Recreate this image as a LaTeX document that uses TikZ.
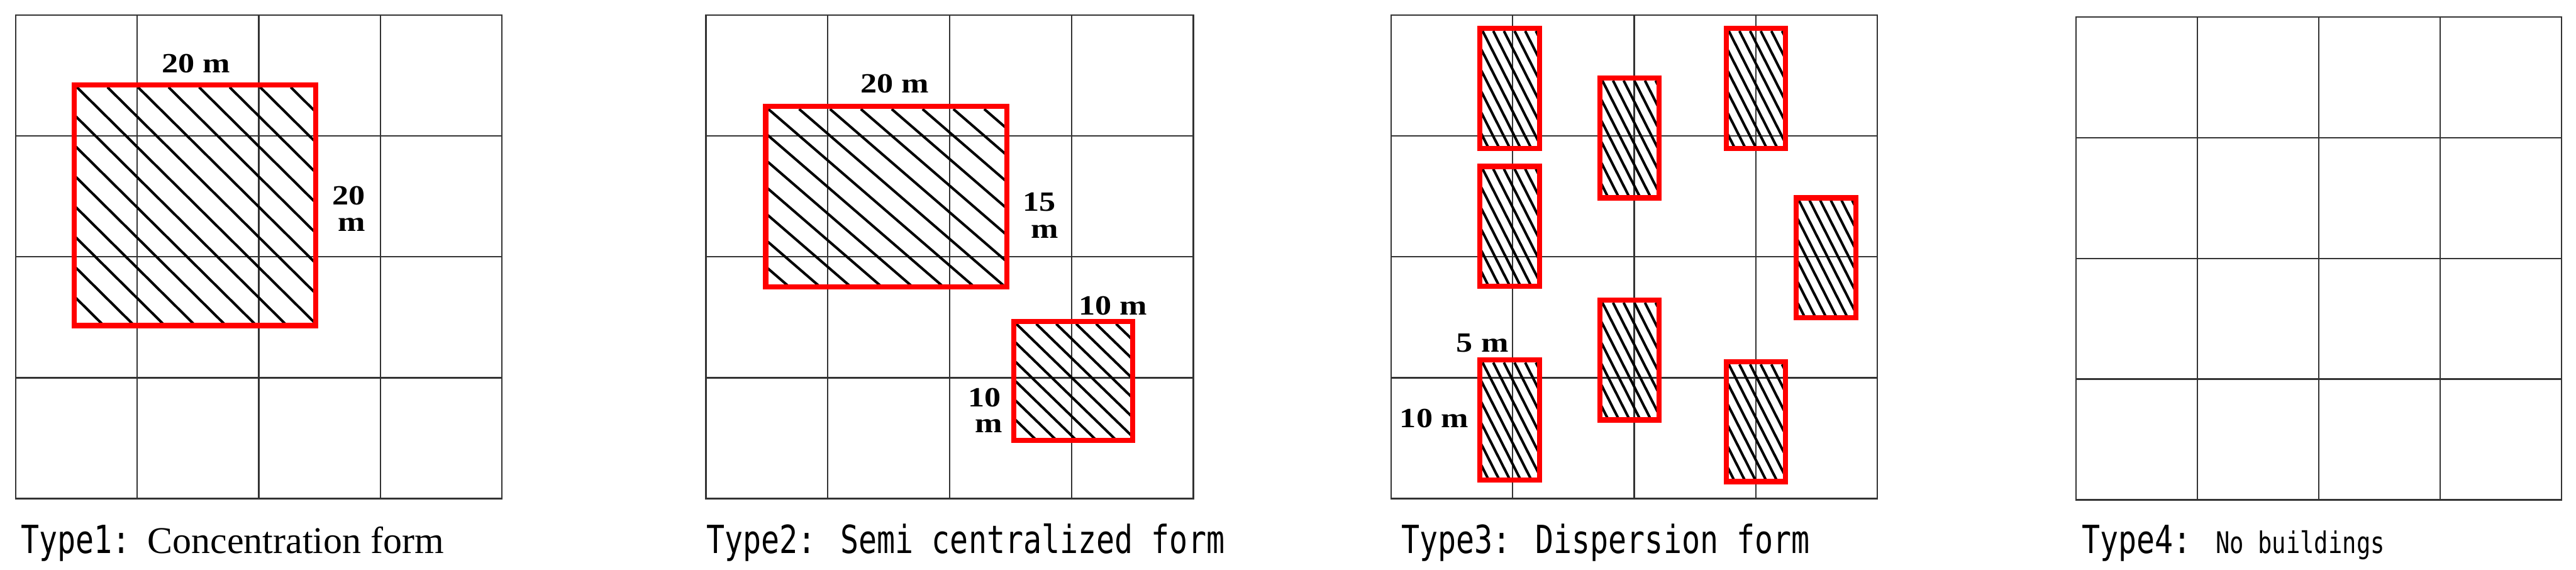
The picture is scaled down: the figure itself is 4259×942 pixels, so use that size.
\documentclass[tikz,border=0pt]{standalone}
\usepackage{fontspec}
\setmainfont{Liberation Serif}
\newfontfamily\monof[FakeStretch=0.785]{DejaVu Sans Mono}
\newfontfamily\labf[FakeStretch=1.18]{Liberation Serif}
\tikzset{
  gridline/.style={draw=black!80, line width=0.6pt},
  redbox/.style={draw=red, line width=2.125pt},
  hatchline/.style={draw=black, line width=1.05pt},
  lab/.style={font=\labf\bfseries\fontsize{11.5}{13}\selectfont, inner sep=0pt, anchor=base},
  capmono/.style={font=\monof\fontsize{16}{19}\selectfont, inner sep=0pt, anchor=base west},
  capserif/.style={font=\fontsize{15.6}{19}\selectfont, inner sep=0pt, anchor=base west}
}
% grid: x0 y0 x1 y1
\newcommand\gridbox[4]{%
  \draw[gridline] (#1,#2) rectangle (#3,#4);
  \foreach \i in {1,2,3}{%
    \draw[gridline] ({#1+\i*(#3-#1)/4},#2) -- ({#1+\i*(#3-#1)/4},#4);
    \draw[gridline] (#1,{#2+\i*(#4-#2)/4}) -- (#3,{#2+\i*(#4-#2)/4});
  }%
}
% building: x y w h hspacing vspacing
\newcommand\bldg[6]{%
  \begin{scope}
    \clip (#1,#2) rectangle ++(#3,#4);
    \foreach \k in {-12,...,12}{%
      \draw[hatchline] ({#1+4.25+\k*#5},{#2+4.25}) -- ++({30*#5},{30*#6});
    }
  \end{scope}
  \draw[redbox] (#1,#2) rectangle ++(#3,#4);
}
\begin{document}
\begin{tikzpicture}[x=0.25pt,y=-0.25pt]
\useasboundingbox (0,0) rectangle (4259,942);
% grids
\gridbox{26}{25}{830}{824}
\gridbox{1167}{25}{1973}{824}
\gridbox{2300}{25}{3104}{824}
\gridbox{3432}{28}{4235}{826}
% panel 1
\bldg{123}{140}{399}{398}{50.5}{50}
\node[lab] (p1top) at (324,120) {20 m};
\node[lab] (p1r1) at (577,338) {20};
\node[lab] (p1r2) at (582,382) {m};
% panel 2
\bldg{1266}{176}{399}{298}{51}{44}
\bldg{1676}{531}{197}{197}{33}{32}
\node[lab] (p2top) at (1479,153) {20 m};
\node[lab] (p2r1) at (1718,349) {15};
\node[lab] (p2r2) at (1727,394) {m};
\node[lab] (p2s) at (1840,520) {10 m};
\node[lab] (p2l1) at (1628,672) {10};
\node[lab] (p2l2) at (1635,715) {m};
% panel 3
\bldg{2447}{47}{98}{198}{17.6}{34.8}
\bldg{2645}{129}{98}{198}{17.6}{34.8}
\bldg{2854}{47}{98}{198}{17.6}{34.8}
\bldg{2447}{275}{98}{198}{17.6}{34.8}
\bldg{2970}{327}{98}{198}{17.6}{34.8}
\bldg{2645}{496}{98}{198}{17.6}{34.8}
\bldg{2447}{595}{98}{198}{17.6}{34.8}
\bldg{2854}{598}{98}{198}{17.6}{34.8}
\node[lab] (p3w) at (2451,582) {5 m};
\node[lab] (p3h) at (2371,707) {10 m};
% captions
\node[capmono] (c1a) at (34,915) {Type1:};
\node[capserif] (c1b) at (243,915) {Concentration form};
\node[capmono] (c2) at (1167,915) {Type2: Semi centralized form};
\node[capmono] (c3) at (2316,915) {Type3: Dispersion form};
\node[capmono] (c4) at (3441,915) {Type4: {\fontsize{12.3}{15}\selectfont No buildings}};
\end{tikzpicture}
\end{document}
